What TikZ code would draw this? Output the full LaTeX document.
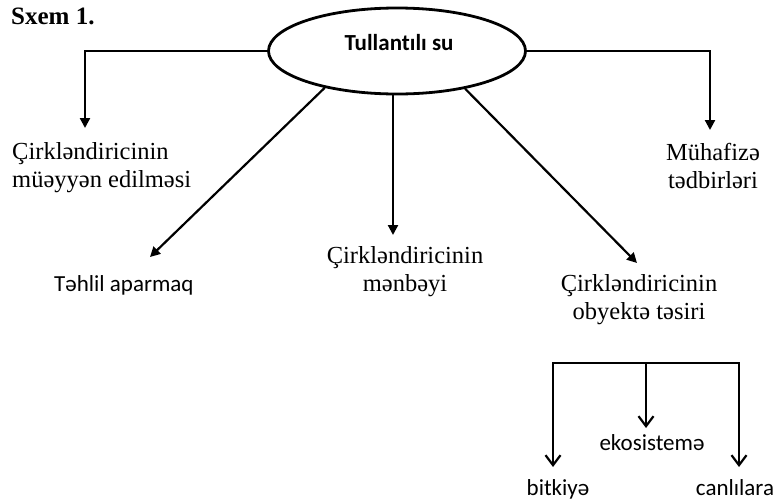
\documentclass[tikz,border=0pt]{standalone}
\usepackage{fontspec}
\setmainfont{Liberation Serif}
\newfontfamily\sansf[Ligatures={NoCommon}]{Carlito}
\usetikzlibrary{shapes.geometric,arrows.meta}
\begin{document}
\begin{tikzpicture}[x=1pt,y=-1pt,
  serif/.style={font=\fontsize{24.5}{27.5}\selectfont, inner sep=0pt},
  sans/.style={font=\sansf\fontsize{23}{27}\selectfont, inner sep=0pt},
  arr/.style={-{Triangle[length=10pt,width=10pt]}, line width=2.2pt},
  barb/.style={-{Straight Barb[length=10pt,width=15pt]}, line width=2.2pt},
  plain/.style={line width=2.2pt}]
\useasboundingbox (0,0) rectangle (779,501);
% title
\node[anchor=base west, inner sep=0pt, font=\bfseries\fontsize{25}{28}\selectfont] (title) at (11,24) {Sxem 1.};
% source
\node[ellipse, draw, line width=2.8pt, minimum width=257pt, minimum height=86pt, inner sep=0pt] (src) at (397,51) {};
\node[sans, font=\sansf\bfseries\fontsize{23}{27}\selectfont, anchor=base] (srclbl) at (399,50) {Tullantılı su};
% targets (base anchor = baseline of the last line)
\node[serif, anchor=base west, align=left] (det) at (12,187) {Çirkləndiricinin\\müəyyən edilməsi};
\node[sans, anchor=base west] (anal) at (54,291) {Təhlil aparmaq};
\node[serif, anchor=base, align=center] (orig) at (405,291) {Çirkləndiricinin\\mənbəyi};
\node[serif, anchor=base, align=center] (prot) at (713,188) {Mühafizə\\tədbirləri};
\node[serif, anchor=base, align=center] (eff) at (639,319) {Çirkləndiricinin\\obyektə təsiri};
% tips
\coordinate (tdet) at (85,128);
\coordinate (tprot) at (710,130);
\coordinate (tanal) at (150,257);
\coordinate (torig) at (393,235);
\coordinate (teff) at (637,263);
% connectors
\draw[arr] (src.west) -| (tdet);
\draw[arr] (src.east) -| (tprot);
\draw[arr] (src.207) -- (tanal);
\draw[arr] (src.south -| torig) -- (torig);
\draw[arr] (src.331) -- (teff);
% bottom bracket
\node[sans, anchor=base] (eco) at (652,450) {ekosistemə};
\node[sans, anchor=base] (bitk) at (558,495) {bitkiyə};
\node[sans, anchor=base] (canl) at (735,495) {canlılara};
\coordinate (bl) at (553,363);
\coordinate (bm) at (646,363);
\coordinate (br) at (739,363);
\coordinate (tbl) at (553,467);
\coordinate (tbm) at (646,428);
\coordinate (tbr) at (739,467);
\draw[plain, line cap=rect] (bl) -- (br);
\draw[barb] (bl) -- (tbl);
\draw[barb] (bm) -- (tbm);
\draw[barb] (br) -- (tbr);
\end{tikzpicture}
\end{document}
